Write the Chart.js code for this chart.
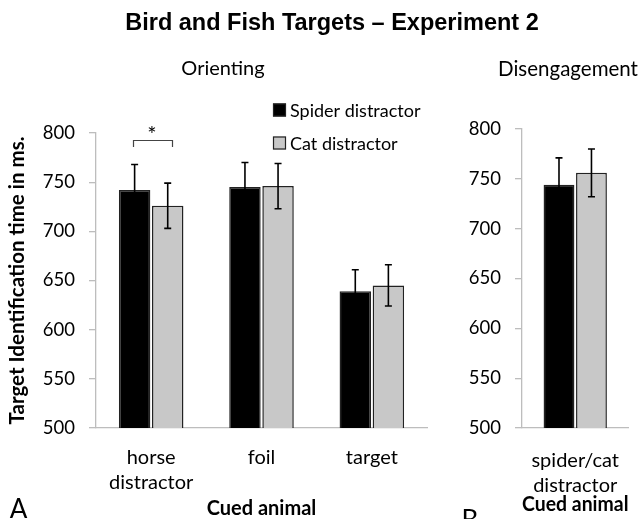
<!DOCTYPE html>
<html>
<head>
<meta charset="utf-8">
<script src="https://cdn.jsdelivr.net/npm/chart.js@4.4.1/dist/chart.umd.min.js"></script>
<style>
  html, body { margin: 0; padding: 0; background: #fff; overflow: hidden; }
  #wrap { position: relative; width: 639px; height: 519px; }
  canvas { position: absolute; left: 0; top: 0; }
</style>
</head>
<body>
<div id="wrap">
  <canvas id="left" width="639" height="519"></canvas>
  <canvas id="right" width="639" height="519"></canvas>
</div>
<script>
// ---- Data ----
const chartTitle = 'Bird and Fish Targets \u2013 Experiment 2';
const seriesNames = ['Spider distractor', 'Cat distractor'];
const seriesColors = ['#000000', '#c8c8c8'];

const orientCategories = [['horse', 'distractor'], 'foil', 'target'];
const orientSpider = [742, 745, 639];
const orientSpiderErr = [26, 25, 22];
const orientCat = [726, 746, 645];
const orientCatErr = [23, 23, 21];

const disCategories = [['spider/cat', 'distractor']];
const disSpider = [744];
const disSpiderErr = [27];
const disCat = [756];
const disCatErr = [24];

const yTicks = [500, 550, 600, 650, 700, 750, 800];
const yMin = 500, yMax = 800;

// ---- Styles ----
const SANS = 'Lato, "Open Sans", sans-serif';
const AXIS_COLOR = '#bdbdbd';

const errorBarPlugin = {
  id: 'errorBars',
  afterDatasetsDraw(chart) {
    const ctx = chart.ctx;
    const y = chart.scales.y;
    chart.data.datasets.forEach((ds, i) => {
      const meta = chart.getDatasetMeta(i);
      meta.data.forEach((bar, j) => {
        const v = ds.data[j], e = ds.errors[j];
        const yTop = y.getPixelForValue(v + e);
        const yBot = y.getPixelForValue(v - e);
        ctx.save();
        ctx.strokeStyle = '#000';
        ctx.lineWidth = 1.6;
        ctx.beginPath();
        ctx.moveTo(bar.x, yTop); ctx.lineTo(bar.x, yBot);
        ctx.moveTo(bar.x - 3.5, yTop); ctx.lineTo(bar.x + 3.5, yTop);
        ctx.moveTo(bar.x - 3.5, yBot); ctx.lineTo(bar.x + 3.5, yBot);
        ctx.stroke();
        ctx.restore();
      });
    });
  }
};

const leftDecor = {
  id: 'leftDecor',
  afterDraw(chart) {
    const ctx = chart.ctx;
    ctx.save();
    ctx.fillStyle = '#000';
    ctx.textAlign = 'center';
    ctx.textBaseline = 'middle';
    ctx.font = 'bold 23.5px "Liberation Sans", Arial, sans-serif';
    ctx.fillText(chartTitle, 332, 24);
    ctx.font = '20px ' + SANS;
    ctx.fillText('Orienting', 223, 69);
    // legend
    const legY = [110, 143];
    chart.data.datasets.forEach((ds, i) => {
      ctx.fillStyle = ds.backgroundColor;
      ctx.fillRect(273, legY[i] - 6.5, 13, 13);
      ctx.strokeStyle = '#222';
      ctx.lineWidth = 1.2;
      ctx.strokeRect(273.5, legY[i] - 6, 12, 12);
      ctx.fillStyle = '#000';
      ctx.textAlign = 'left';
      ctx.font = '18px ' + SANS;
      ctx.fillText(ds.label, 290, legY[i] + 1);
    });
    // significance bracket
    ctx.strokeStyle = '#444';
    ctx.lineWidth = 1.2;
    ctx.beginPath();
    ctx.moveTo(133.5, 147); ctx.lineTo(133.5, 140.5); ctx.lineTo(172.5, 140.5); ctx.lineTo(172.5, 147);
    ctx.stroke();
    ctx.fillStyle = '#000';
    ctx.textAlign = 'center';
    ctx.font = '22px ' + SANS;
    ctx.fillText('*', 152, 135);
    // panel letter
    ctx.textBaseline = 'alphabetic';
    ctx.font = '26px ' + SANS;
    ctx.fillText('A', 18.5, 518);
    ctx.restore();
  }
};

const rightDecor = {
  id: 'rightDecor',
  afterDraw(chart) {
    const ctx = chart.ctx;
    ctx.save();
    ctx.fillStyle = '#000';
    ctx.textAlign = 'center';
    ctx.textBaseline = 'middle';
    ctx.font = '20.5px ' + SANS;
    ctx.fillText('Disengagement', 568, 69);
    ctx.textBaseline = 'alphabetic';
    ctx.font = '26px ' + SANS;
    ctx.fillText('B', 470, 529);
    ctx.restore();
  }
};

function makeChart(id, cats, spider, spiderErr, cat, catErr, pad, yWidth, catPct, withTitle, xPad, titleBottom, decor) {
  return new Chart(document.getElementById(id), {
    type: 'bar',
    data: {
      labels: cats,
      datasets: [
        { label: seriesNames[0], data: spider, errors: spiderErr, backgroundColor: seriesColors[0],
          borderColor: '#222', borderWidth: 1.5, categoryPercentage: catPct, barPercentage: 0.95 },
        { label: seriesNames[1], data: cat, errors: catErr, backgroundColor: seriesColors[1],
          borderColor: '#222', borderWidth: 1.5, categoryPercentage: catPct, barPercentage: 0.95 }
      ]
    },
    options: {
      responsive: false,
      animation: false,
      events: [],
      layout: { padding: pad },
      plugins: { legend: { display: false }, tooltip: { enabled: false }, title: { display: false } },
      scales: {
        y: {
          min: yMin, max: yMax,
          afterBuildTicks(scale) { scale.ticks = yTicks.map(v => ({ value: v })); },
          afterFit(scale) { scale.width = yWidth; },
          ticks: { color: '#000', font: { family: SANS, size: 18.5 }, padding: 14 },
          grid: { drawOnChartArea: false, drawTicks: true, tickLength: 7, color: AXIS_COLOR, lineWidth: 1.3 },
          border: { display: true, color: AXIS_COLOR, width: 1.3 },
          title: withTitle ? { display: true, text: 'Target Identification time in ms.', color: '#000',
                   font: { family: SANS, size: 20.5, weight: 'bold', lineHeight: 1.2 }, padding: { top: 5, bottom: 0 } } : { display: false }
        },
        x: {
          afterFit(scale) { scale.height = 91; },
          ticks: { color: '#000', font: { family: SANS, size: 20, lineHeight: 1.25 }, padding: xPad, maxRotation: 0, autoSkip: false },
          grid: { display: false, drawTicks: false },
          border: { display: true, color: AXIS_COLOR, width: 1.3 },
          title: { display: true, text: 'Cued animal', color: '#000',
                   font: { family: SANS, size: 20, weight: 'bold', lineHeight: 1 }, padding: { top: 0, bottom: titleBottom } }
        }
      }
    },
    plugins: [errorBarPlugin, decor]
  });
}

makeChart('left', orientCategories, orientSpider, orientSpiderErr, orientCat, orientCatErr,
  { top: 133, left: 0, right: 212, bottom: 0 }, 96, 0.6, true, 17.5, 0, leftDecor);
makeChart('right', disCategories, disSpider, disSpiderErr, disCat, disCatErr,
  { top: 129, left: 430, right: 0, bottom: 0 }, 92, 0.61, false, 20, 4, rightDecor);
</script>
</body>
</html>
